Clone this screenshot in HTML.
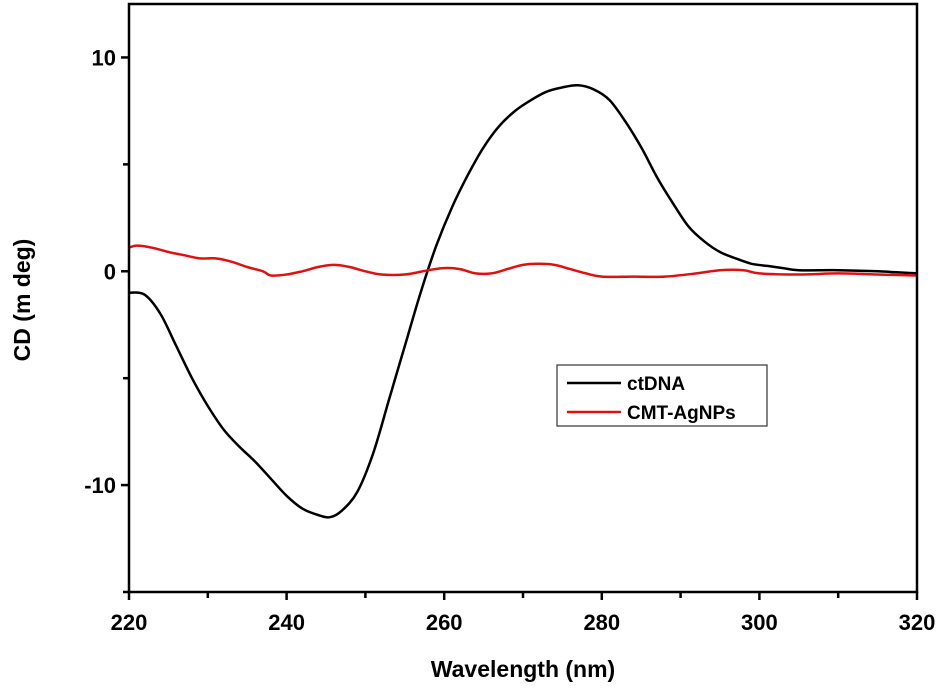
<!DOCTYPE html>
<html><head><meta charset="utf-8"><style>
body{margin:0;background:#fff}
svg text{font-family:"Liberation Sans",Arial,sans-serif;font-weight:bold;fill:#000}
</style></head><body>
<svg id="chart" width="943" height="690" viewBox="0 0 943 690" xmlns="http://www.w3.org/2000/svg">
<g id="plot"></g>
<g id="axes"></g>
<text x="523" y="677" font-size="23" text-anchor="middle">Wavelength (nm)</text>
<text transform="translate(30,300) rotate(-90)" font-size="23" text-anchor="middle">CD (m deg)</text>
<g>
<rect x="557" y="365" width="210" height="61" fill="#fff" stroke="#333" stroke-width="1.2"/>
<line x1="567" y1="383" x2="621" y2="383" stroke="#000" stroke-width="2.5"/>
<text x="627" y="390" font-size="19">ctDNA</text>
<line x1="567" y1="412" x2="621" y2="412" stroke="#e01010" stroke-width="2.5"/>
<text x="627" y="419" font-size="19">CMT-AgNPs</text>
</g>
</svg>
<script>
const ctX=[220,222,224,226,228,230,232,234,236,238,240,242,244,245.5,247,249,251,253,255,257,259,261,263,265,267,269,271,273,275,277,279,281,283,285,287,289,291,293,295,297,299,301,303,305,310,315,320];
const ctY=[-1,-1.1,-2,-3.5,-5,-6.3,-7.4,-8.2,-8.9,-9.7,-10.5,-11.1,-11.4,-11.5,-11.2,-10.3,-8.5,-6,-3.5,-1,1.2,3,4.5,5.8,6.8,7.5,8,8.4,8.6,8.7,8.5,8,7,5.8,4.4,3.2,2.1,1.4,0.9,0.6,0.35,0.25,0.15,0.05,0.05,0,-0.1];
const agX=[220,221,223,225,227,229,231,233,235,237,238,240,242,244,246,248,250,252,255,258,260,262,264,266,268,270,272,274,276,278,280,284,288,292,295,298,300,305,310,315,320];
const agY=[1.1,1.2,1.1,0.9,0.75,0.6,0.6,0.45,0.2,0,-0.2,-0.15,0,0.2,0.3,0.2,0,-0.15,-0.15,0.05,0.15,0.1,-0.1,-0.1,0.1,0.3,0.35,0.3,0.1,-0.1,-0.25,-0.25,-0.25,-0.1,0.05,0.05,-0.1,-0.15,-0.1,-0.15,-0.2];
const xTicks=[220,240,260,280,300,320];
const yTicks=[-10,0,10];
const NS='http://www.w3.org/2000/svg';
const L=129,R=917,T=4,B=592,xmin=220,xmax=320,ymin=-15,ymax=12.5;
const sx=v=>L+(v-xmin)/(xmax-xmin)*(R-L);
const sy=v=>B-(v-ymin)/(ymax-ymin)*(B-T);
function mk(t,a,p){const e=document.createElementNS(NS,t);for(const k in a)e.setAttribute(k,a[k]);p.appendChild(e);return e;}
const plot=document.getElementById('plot'),axes=document.getElementById('axes');
function line(xs,ys,color,name){
 const P=xs.map((x,i)=>[sx(x),sy(ys[i])]);
 let d='M'+P[0][0].toFixed(1)+','+P[0][1].toFixed(1);
 for(let i=0;i<P.length-1;i++){
  const p0=P[i-1]||P[i],p1=P[i],p2=P[i+1],p3=P[i+2]||p2;
  const c1=[p1[0]+(p2[0]-p0[0])/6,p1[1]+(p2[1]-p0[1])/6],c2=[p2[0]-(p3[0]-p1[0])/6,p2[1]-(p3[1]-p1[1])/6];
  d+='C'+c1.map(n=>n.toFixed(1)).join(',')+' '+c2.map(n=>n.toFixed(1)).join(',')+' '+p2.map(n=>n.toFixed(1)).join(',');
 }
 const p=mk('path',{d:d,fill:'none',stroke:color,'stroke-width':2.5,'stroke-linejoin':'round'},plot);
 
 
}
line(ctX,ctY,'#000','series-ctdna');
line(agX,agY,'#e01010','series-cmt-agnps');
const fr=mk('rect',{x:L,y:T,width:R-L,height:B-T,fill:'none',stroke:'#000','stroke-width':2.5},axes);


for(let v=xmin;v<=xmax;v+=10){
 const maj=xTicks.includes(v);
 const t=mk('line',{x1:sx(v),x2:sx(v),y1:B,y2:B+(maj?8:6),stroke:'#000','stroke-width':2.5},axes);
 
 
 if(maj){const tx=mk('text',{x:sx(v),y:B+38,'font-size':22,'text-anchor':'middle'},axes);tx.textContent=v;
 
 }
}
for(let v=-15;v<=10;v+=5){
 const maj=yTicks.includes(v);
 const t=mk('line',{x1:L-(maj?8:6),x2:L,y1:sy(v),y2:sy(v),stroke:'#000','stroke-width':2.5},axes);
 
 
 if(maj){const tx=mk('text',{x:L-13,y:sy(v)+8,'font-size':22,'text-anchor':'end'},axes);tx.textContent=v;
 
 }
}
</script>
</body></html>
